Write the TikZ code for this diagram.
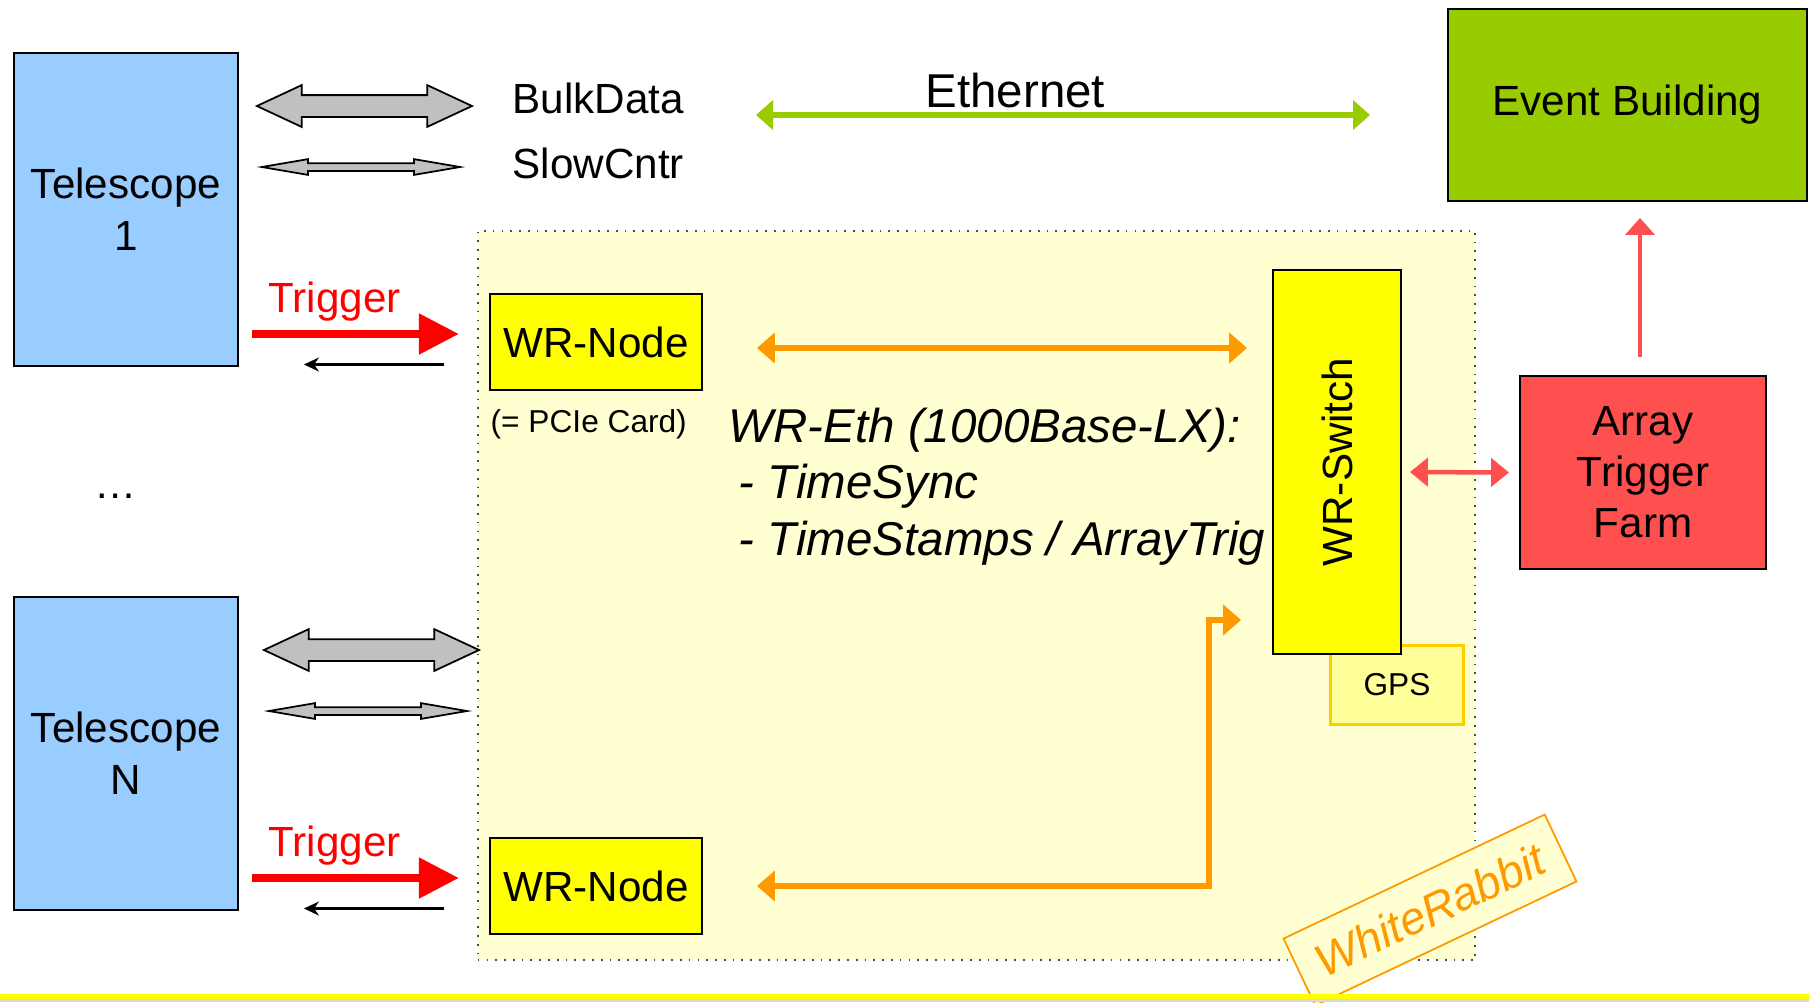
\documentclass[tikz,border=0pt]{standalone}
\usepackage{fontspec}
\setmainfont{Liberation Sans}
\usepackage{tikz}
\usetikzlibrary{arrows.meta,positioning,calc,shapes.arrows}

\definecolor{telblue}{HTML}{99CCFF}
\definecolor{evgreen}{HTML}{99CC00}
\definecolor{wryellow}{HTML}{FFFF00}
\definecolor{gpsfill}{HTML}{FFFF99}
\definecolor{gpsline}{HTML}{FFCC00}
\definecolor{zonefill}{HTML}{FFFFD2}
\definecolor{wrorange}{HTML}{FF9900}
\definecolor{atfred}{HTML}{FF5050}
\definecolor{trigred}{HTML}{FF0000}
\definecolor{bulkgray}{HTML}{C0C0C0}

\begin{document}
\begin{tikzpicture}[
  x=0.01cm, y=-0.01cm,
  box/.style={draw, line width=0.5pt, align=center, inner sep=0pt, font=\fontsize{12}{14.8}\selectfont},
  tele/.style={box, fill=telblue, minimum width=2.24cm, minimum height=3.13cm},
  wrnode/.style={box, fill=wryellow, minimum width=2.12cm, minimum height=0.96cm},
  gpsbox/.style={box, draw=gpsline, line width=0.85pt, fill=gpsfill, minimum width=1.32cm, minimum height=0.79cm, font=\fontsize{9}{11}\selectfont},
  zone/.style={draw=black!70, dotted, line width=0.5pt, fill=zonefill, minimum width=9.97cm, minimum height=7.29cm, inner sep=0pt},
  wrtag/.style={draw=wrorange, line width=0.5pt, fill=zonefill, rotate=25.4, minimum width=2.89cm, minimum height=0.74cm, inner sep=0pt, text=wrorange, font=\fontsize{13}{15}\selectfont\itshape},
  txt/.style={inner sep=0pt, font=\fontsize{12}{14.8}\selectfont},
  wrtxt/.style={inner sep=0pt, anchor=base west, font=\fontsize{13.5}{16}\selectfont\itshape},
  trigtxt/.style={txt, anchor=base west, text=trigred},
  bulkarrow/.style={double arrow, draw, line width=0.5pt, fill=bulkgray, inner xsep=0pt, inner ysep=0.1cm, minimum height=2.15cm, double arrow head extend=0.1cm, double arrow tip angle=50},
  slowarrow/.style={bulkarrow, inner ysep=0.03cm, minimum height=1.98cm, double arrow head extend=0.04cm, double arrow tip angle=19.4},
  trig/.style={draw=trigred, line width=0.08cm, -{Triangle[length=0.4cm,width=0.39cm]}},
  retarrow/.style={draw=black, line width=0.6pt, -{Stealth[length=0.15cm,width=0.14cm]}},
  ether/.style={draw=evgreen, line width=0.06cm, {Triangle[length=0.17cm,width=0.29cm]}-{Triangle[length=0.17cm,width=0.29cm]}},
  wrlink/.style={draw=wrorange, line width=0.06cm, {Triangle[length=0.18cm,width=0.3cm]}-{Triangle[length=0.18cm,width=0.3cm]}},
  atflink/.style={draw=atfred, line width=0.045cm, {Triangle[length=0.18cm,width=0.28cm]}-{Triangle[length=0.18cm,width=0.28cm]}},
  atfup/.style={draw=atfred, line width=0.045cm, -{Triangle[length=0.17cm,width=0.29cm]}}
]
\useasboundingbox (0,0) rectangle (1809,1002);

% WhiteRabbit area
\node[zone] (zone) at (976.5,595.5) {};

% telescopes
\node[tele] (tel1) at (126,209.5) {Telescope\\1};
\node[tele] (telN) at (126,753.5) {Telescope\\N};
\node[txt, anchor=base] (dots) at (116,498) {…};

\foreach \t/\dx in {tel1/0, telN/7} {
  \node[bulkarrow] (bulk-\t) at ($(\t.east)+(125.5+\dx,-103.5)$) {};
  \node[slowarrow] (slow-\t) at ($(\t.east)+(122+\dx,-42.5)$) {};
  \node[trigtxt] (trig-\t) at ($(\t.east)+(29,102.5)$) {Trigger};
  \draw[trig] ($(\t.east)+(13,124.5)$) -- ++(207,0);
  \draw[retarrow] ($(\t.east)+(205,155)$) -- ++(-140,0);
}

\node[txt, anchor=base west] (bulkdata) at (512,113) {BulkData};
\node[txt, anchor=base west] (slowcntr) at (512,178) {SlowCntr};
\node[txt, anchor=base west, font=\fontsize{13.5}{16}\selectfont] (ethernet) at (925,107) {Ethernet};

% WR nodes and text
\node[wrnode] (node1) at (596,342) {WR-Node};
\node[wrnode] (nodeN) at (596,886) {WR-Node};
\node[txt, anchor=base west, font=\fontsize{9}{11}\selectfont] (pcie) at (490,432) {(= PCIe Card)};
\node[wrtxt] (eth1) at (728,442) {WR-Eth (1000Base-LX):};
\node[wrtxt] (eth2) at (738,498) {- TimeSync};
\node[wrtxt] (eth3) at (738,555) {- TimeStamps / ArrayTrig};

% right column
\node[box, fill=evgreen, minimum width=3.59cm, minimum height=1.92cm] (evb) at (1627.5,105) {Event Building};
\node[box, fill=atfred, minimum width=2.46cm, minimum height=1.93cm, font=\fontsize{12}{14.5}\selectfont] (atf) at (1643,472.5) {Array\\Trigger\\Farm};
\node[gpsbox] (gps) at (1397,685) {GPS};
\node[box, fill=wryellow, minimum width=1.28cm, minimum height=3.84cm] (sw) at (1337,462) {};
\node[txt, rotate=90] (swlabel) at (sw.center) {WR-Switch};

% links
\coordinate (ethL) at (756,115);
\draw[ether] (ethL) -- ($(ethL -| evb.west)+(-77,0)$);
\draw[wrlink] ($(node1.east)+(54,6)$) -- ($(node1.east -| sw.west)+(-25,6)$);
\draw[wrlink] ($(nodeN.east)+(54,0)$) -| ($(sw.west)+(-63,158)$) -- ($(sw.west)+(-31,158)$);
\draw[atflink] ($(sw.east)+(8,10)$) -- ($(atf.west)+(-10,0)$);
\draw[atfup] ($(atf.north)+(-3,-18)$) -- ($(atf.north |- evb.south)+(-3,16)$);

\node[wrtag] (tag) at (1430,910) {WhiteRabbit};

% bottom band
\fill[wryellow] (0,994) rectangle (1809,999);
\fill[gray!30] (0,999) rectangle (1809,1002);
\end{tikzpicture}
\end{document}
